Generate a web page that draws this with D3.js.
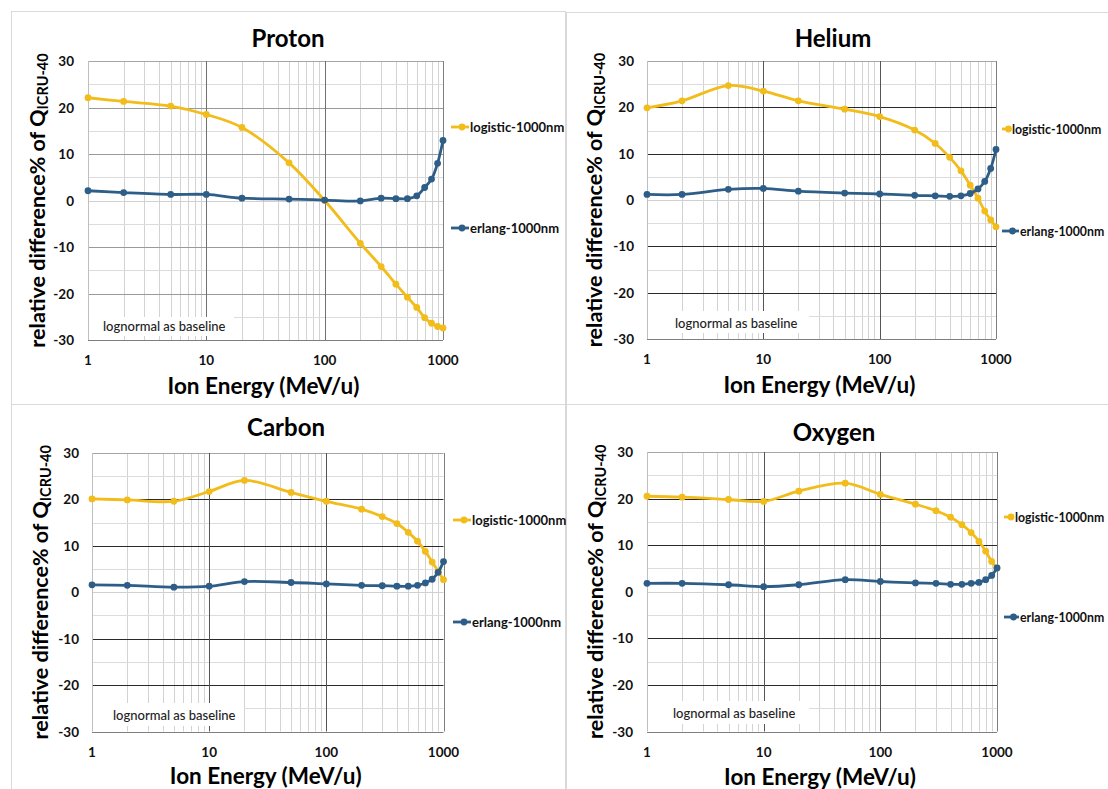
<!DOCTYPE html>
<html>
<head>
<meta charset="utf-8">
<script src="https://cdn.jsdelivr.net/npm/d3@7"></script>
<style>
  html, body { margin: 0; padding: 0; background: #fff; }
  svg { display: block; font-family: Lato, "Open Sans", sans-serif; }
</style>
</head>
<body>
<svg id="chart" width="1108" height="789"></svg>
<script>
// ---------- data ----------
const energies = [1, 2, 5, 10, 20, 50, 100, 200, 300, 400, 500, 600, 700, 800, 900, 1000];

const protonLogistic = [22.1, 21.3, 20.3, 18.5, 15.7, 8.1, 0.0, -9.2, -14.2, -18.0, -20.8, -23.0, -25.2, -26.4, -27.1, -27.4];
const protonErlang   = [2.1, 1.7, 1.3, 1.3, 0.5, 0.3, 0.1, -0.1, 0.5, 0.4, 0.4, 1.0, 2.8, 4.6, 8.0, 12.9];

const heliumLogistic = [19.9, 21.4, 24.7, 23.5, 21.4, 19.6, 18.0, 15.1, 12.2, 9.2, 6.3, 3.2, 0.4, -2.4, -4.3, -5.8];
const heliumErlang   = [1.2, 1.2, 2.3, 2.5, 1.9, 1.5, 1.3, 1.0, 0.9, 0.8, 0.9, 1.4, 2.4, 4.0, 6.8, 10.9];

const carbonLogistic = [20.1, 19.9, 19.6, 21.7, 24.1, 21.5, 19.6, 17.9, 16.3, 14.8, 12.9, 11.0, 8.8, 6.5, 4.5, 2.7];
const carbonErlang   = [1.6, 1.5, 1.1, 1.3, 2.3, 2.1, 1.8, 1.5, 1.4, 1.3, 1.3, 1.5, 2.0, 2.8, 4.3, 6.6];

const oxygenLogistic = [20.5, 20.3, 19.8, 19.4, 21.6, 23.3, 20.9, 18.8, 17.4, 16.0, 14.4, 12.7, 10.8, 8.7, 6.5, 5.1];
const oxygenErlang   = [1.8, 1.8, 1.5, 1.1, 1.5, 2.6, 2.2, 1.9, 1.8, 1.6, 1.6, 1.8, 2.0, 2.6, 3.5, 5.1];

const xTickValues = [1, 10, 100, 1000];
const xTickLabels = ["1", "10", "100", "1000"];
const yTickValues = [-30, -20, -10, 0, 10, 20, 30];
const seriesNames = ["logistic-1000nm", "erlang-1000nm"];
const panelTitles = ["Proton", "Helium", "Carbon", "Oxygen"];
const xAxisTitle = "Ion Energy (MeV/u)";
const yAxisTitleMain = "relative difference% of Q";
const yAxisTitleSub = "ICRU-40";
const noteText = "lognormal as baseline";

// ---------- layout (styles/positions) ----------
const colors = ["#F2BC1A", "#2E5E87"];
const layouts = [
  { title: panelTitles[0], series: [protonLogistic, protonErlang],
    border: [11, 11, 554, 393], plot: [88, 61, 443, 340], titleXY: [288, 37],
    yTitleX: 37, xTitleY: 385, xTickY: 360, yTickRight: 74,
    legend: [[451, 469, 127], [451, 469, 228]], legendFont: 13, note: [88, 233, 317, 336, 103, 326],
    hMajor: "#9a9a9a", vMajor: "#707070" },
  { title: panelTitles[1], series: [heliumLogistic, heliumErlang],
    border: [566, 12, 560, 392], plot: [647, 61, 996, 339], titleXY: [833, 37],
    yTitleX: 594, xTitleY: 384, xTickY: 359, yTickRight: 634,
    legend: [[1002, 1011, 129], [1002, 1019, 231]], legendFont: 12.3, note: [647, 808, 311, 333, 675, 323],
    hMajor: "#2a2a2a", vMajor: "#555555" },
  { title: panelTitles[2], series: [carbonLogistic, carbonErlang],
    border: [11, 404, 554, 400], plot: [92, 453, 443.5, 731.5], titleXY: [286, 426],
    yTitleX: 40, xTitleY: 775, xTickY: 752, yTickRight: 79,
    legend: [[453, 471, 520], [453, 471, 622]], legendFont: 13, note: [92, 243, 703, 726, 113, 715],
    hMajor: "#2a2a2a", vMajor: "#555555" },
  { title: panelTitles[3], series: [oxygenLogistic, oxygenErlang],
    border: [566, 404, 560, 400], plot: [647, 452, 997, 731.5], titleXY: [834, 431],
    yTitleX: 595, xTitleY: 776, xTickY: 752, yTickRight: 633,
    legend: [[1004, 1014, 517], [1004, 1019, 617]], legendFont: 12.3, note: [647, 808, 701, 724, 673, 713],
    hMajor: "#2a2a2a", vMajor: "#555555" }
];

const svg = d3.select("#chart");

function drawPanel(cfg) {
  const g = svg.append("g");
  const [bx, by, bw, bh] = cfg.border;
  g.append("rect").attr("x", bx + 0.5).attr("y", by + 0.5).attr("width", bw).attr("height", bh)
    .attr("fill", "#fff").attr("stroke", "#d9d9d9").attr("stroke-width", 1);

  const [x0, y0, x1, y1] = cfg.plot;
  const x = d3.scaleLog().domain([1, 1000]).range([x0, x1]);
  const y = d3.scaleLinear().domain([-30, 30]).range([y1, y0]);

  // minor vertical grid
  const minorX = [];
  [1, 10, 100].forEach(d => { for (let k = 2; k <= 9; k++) minorX.push(d * k); });
  g.append("g").selectAll("line").data(minorX).join("line")
    .attr("x1", d => Math.round(x(d)) + 0.5).attr("x2", d => Math.round(x(d)) + 0.5)
    .attr("y1", y0).attr("y2", y1).attr("stroke", "#d3d3d3").attr("stroke-width", 1);

  // minor horizontal grid
  const minorY = [25, 15, 5, -5, -15, -25];
  g.append("g").selectAll("line").data(minorY).join("line")
    .attr("x1", x0).attr("x2", x1)
    .attr("y1", d => Math.round(y(d)) + 0.5).attr("y2", d => Math.round(y(d)) + 0.5)
    .attr("stroke", "#dcdcdc").attr("stroke-width", 1);

  // major horizontal grid
  g.append("g").selectAll("line").data([20, 10, -10, -20]).join("line")
    .attr("x1", x0).attr("x2", x1)
    .attr("y1", d => Math.round(y(d)) + 0.5).attr("y2", d => Math.round(y(d)) + 0.5)
    .attr("stroke", cfg.hMajor).attr("stroke-width", 1);
  // zero line (axis), top and bottom
  g.append("line").attr("x1", x0).attr("x2", x1)
    .attr("y1", Math.round(y(0)) + 0.5).attr("y2", Math.round(y(0)) + 0.5)
    .attr("stroke", "#d0d0d0");
  g.append("line").attr("x1", x0).attr("x2", x1)
    .attr("y1", Math.round(y(30)) + 0.5).attr("y2", Math.round(y(30)) + 0.5)
    .attr("stroke", "#a6a6a6");
  g.append("line").attr("x1", x0).attr("x2", x1)
    .attr("y1", Math.round(y(-30)) + 0.5).attr("y2", Math.round(y(-30)) + 0.5)
    .attr("stroke", "#7f7f7f");

  // major vertical grid
  g.append("g").selectAll("line").data([10, 100]).join("line")
    .attr("x1", d => Math.round(x(d)) + 0.5).attr("x2", d => Math.round(x(d)) + 0.5)
    .attr("y1", y0).attr("y2", y1).attr("stroke", cfg.vMajor);
  g.append("line").attr("x1", Math.round(x(1)) + 0.5).attr("x2", Math.round(x(1)) + 0.5)
    .attr("y1", y0).attr("y2", y1).attr("stroke", "#bfbfbf");
  g.append("line").attr("x1", Math.round(x(1000)) + 0.5).attr("x2", Math.round(x(1000)) + 0.5)
    .attr("y1", y0).attr("y2", y1).attr("stroke", "#7f7f7f");

  // note box
  const [nx0, nx1, ny0, ny1, ntx, nty] = cfg.note;
  g.append("rect").attr("x", nx0 + 1).attr("y", ny0).attr("width", nx1 - nx0).attr("height", ny1 - ny0)
    .attr("fill", "#fff");
  g.append("text").attr("x", ntx).attr("y", nty).attr("dominant-baseline", "central")
    .attr("font-size", 13).attr("fill", "#222").attr("font-weight", 500).text(noteText);

  // series
  const line = d3.line().x((d, i) => x(energies[i])).y(d => y(d)).curve(d3.curveCatmullRom.alpha(0.5));
  cfg.series.forEach((vals, si) => {
    g.append("path").datum(vals).attr("d", line).attr("fill", "none")
      .attr("stroke", colors[si]).attr("stroke-width", 2.8).attr("stroke-linejoin", "round");
    g.append("g").selectAll("circle").data(vals).join("circle")
      .attr("cx", (d, i) => x(energies[i])).attr("cy", d => y(d)).attr("r", 3.4)
      .attr("fill", colors[si]);
  });

  // y ticks
  g.append("g").selectAll("text").data(yTickValues).join("text")
    .attr("x", cfg.yTickRight).attr("y", d => y(d)).attr("text-anchor", "end")
    .attr("dominant-baseline", "central").attr("font-size", 13.5).attr("font-weight", 700)
    .attr("fill", "#111").text(d => d);
  // x ticks
  g.append("g").selectAll("text").data(xTickValues).join("text")
    .attr("x", d => x(d)).attr("y", cfg.xTickY).attr("text-anchor", "middle")
    .attr("dominant-baseline", "central").attr("font-size", 13.5).attr("font-weight", 700)
    .attr("fill", "#111").text((d, i) => xTickLabels[i]);

  // titles
  g.append("text").attr("x", cfg.titleXY[0]).attr("y", cfg.titleXY[1]).attr("text-anchor", "middle")
    .attr("dominant-baseline", "central").attr("font-size", 24).attr("font-weight", 700)
    .attr("fill", "#000").text(cfg.title);
  g.append("text").attr("x", (x0 + x1) / 2 - 2).attr("y", cfg.xTitleY).attr("text-anchor", "middle")
    .attr("dominant-baseline", "central").attr("font-size", 22.5).attr("font-weight", 700)
    .attr("fill", "#000").text(xAxisTitle);
  const yt = g.append("text")
    .attr("transform", `translate(${cfg.yTitleX},${(y0 + y1) / 2}) rotate(-90)`)
    .attr("text-anchor", "middle").attr("dominant-baseline", "central")
    .attr("font-size", 21.5).attr("font-weight", 700).attr("fill", "#000");
  yt.append("tspan").text(yAxisTitleMain);
  yt.append("tspan").attr("font-size", 14.5).attr("dy", 5).text(yAxisTitleSub);

  // legend
  cfg.legend.forEach((L, si) => {
    const [lx0, lx1, ly] = L;
    g.append("line").attr("x1", lx0).attr("x2", lx1).attr("y1", ly).attr("y2", ly)
      .attr("stroke", colors[si]).attr("stroke-width", 2.8);
    g.append("circle").attr("cx", (lx0 + lx1) / 2 + 2).attr("cy", ly).attr("r", 3.4).attr("fill", colors[si]);
    g.append("text").attr("x", lx1 + 1).attr("y", ly).attr("dominant-baseline", "central")
      .attr("font-size", cfg.legendFont).attr("font-weight", 700).attr("fill", "#111").text(seriesNames[si]);
  });
}

layouts.forEach(drawPanel);
</script>
</body>
</html>
